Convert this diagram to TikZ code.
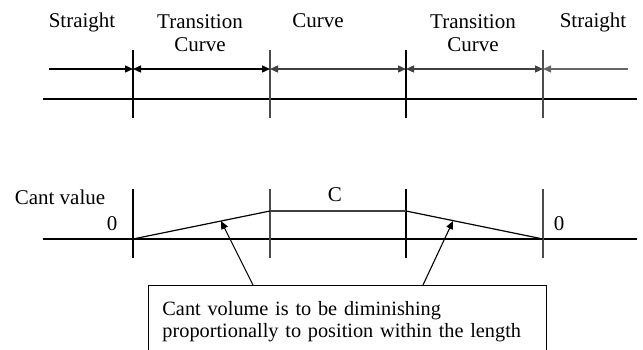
\documentclass[tikz,border=0pt]{standalone}
\usepackage{fontspec}
\setmainfont{Liberation Serif}
\usetikzlibrary{arrows.meta}

\begin{document}
\begin{tikzpicture}[x=1pt, y=-1pt, >={Triangle[length=8pt,width=7pt]},
    track/.style={line width=2.8pt},
    divider/.style={line width=1.6pt},
    dim/.style={line width=1.3pt},
    txt/.style={font=\fontsize{21}{23}\selectfont, inner sep=0pt}]
    \useasboundingbox (0, 0) rectangle (643, 349);
    \clip (0, 0) rectangle (643, 349);

    % Section names
    \node[txt, anchor=base] (st1) at (82, 27) {Straight};
    \node[txt, anchor=north, align=center] (tr1) at (200, 14) {Transition\\Curve};
    \node[txt, anchor=base] (cv) at (318, 27) {Curve};
    \node[txt, anchor=north, align=center] (tr2) at (473, 14) {Transition\\Curve};
    \node[txt, anchor=base] (st2) at (593, 27) {Straight};

    % Plan: track line and section limits
    \draw[track] (43, 99) -- (637, 99);
    \draw[divider] (133, 50) -- (133, 118);
    \draw[divider, black!70] (270, 50) -- (270, 118);
    \draw[divider] (406, 50) -- (406, 118);
    \draw[divider, black!70] (543, 50) -- (543, 118);

    % Lengths of the sections
    \coordinate (d0) at (49, 69);
    \coordinate (d1) at (133, 69);
    \coordinate (d2) at (270, 69);
    \coordinate (d3) at (406, 69);
    \coordinate (d4) at (543, 69);
    \coordinate (d5) at (628, 69);
    \draw[dim, ->] (d0) -- (d1);
    \draw[dim, <->] (d1) -- (d2);
    \draw[dim, <->, black!75] (d2) -- (d3);
    \draw[dim, <->, black!75] (d3) -- (d4);
    \draw[dim, <-, black!60] (d4) -- (d5);

    % Cant diagram
    \draw[track] (43, 239) -- (637, 239);
    \draw[divider] (133, 189) -- (133, 258);
    \draw[divider, black!70] (270, 189) -- (270, 258);
    \draw[divider] (406, 189) -- (406, 258);
    \draw[divider, black!70] (543, 189) -- (543, 258);

    \coordinate (c0) at (133, 239);
    \coordinate (c1) at (270, 211);
    \coordinate (c2) at (406, 211);
    \coordinate (c3) at (543, 239);
    \draw[line width=1.2pt] (c0) -- (c1);
    \draw[line width=1.2pt, black!75] (c1) -- (c2);
    \draw[line width=1.2pt] (c2) -- (c3);

    \node[txt, anchor=base] (cantv) at (60, 204) {Cant value};
    \node[txt, anchor=base] (zl) at (112, 230) {0};
    \node[txt, anchor=base] (cc) at (335, 201) {C};
    \node[txt, anchor=base] (zr) at (559, 230) {0};

    % Note box
    \node[txt, font=\fontsize{20.3}{22}\selectfont, draw, line width=0.9pt,
          anchor=north west, align=left,
          text width=380pt, inner xsep=9pt, inner ysep=16pt] (note) at (148, 285)
          {\hspace*{5pt}Cant volume is to be diminishing\\
           \hspace*{5pt}proportionally to position within the length};

    \coordinate (a1) at (253, 285);
    \coordinate (a2) at (423, 285);
    \coordinate (t1) at (221, 221);
    \coordinate (t2) at (453, 221);
    \draw[line width=1.1pt, ->] (a1) -- (t1);
    \draw[line width=1.1pt, ->] (a2) -- (t2);
\end{tikzpicture}
\end{document}
